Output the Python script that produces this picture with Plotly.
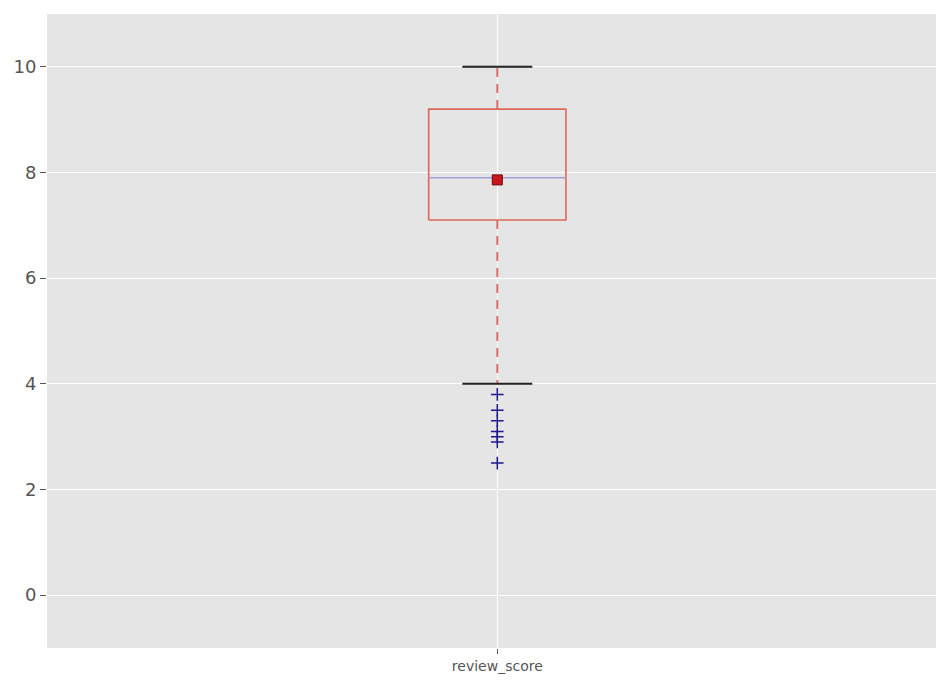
import plotly.graph_objects as go

category = ["review_score"]
q1 = [7.1]
median = [7.9]
q3 = [9.2]
mean = [7.86]
lower_whisker = [4.0]
upper_whisker = [10.0]
outliers = [3.8, 3.5, 3.3, 3.1, 3.0, 2.9, 2.5]
y_ticks = [0, 2, 4, 6, 8, 10]

xc = 1.0
bw = 0.0765   # half box width
cw = 0.039    # half cap width

fig = go.Figure()

# whiskers (dashed)
fig.add_trace(go.Scatter(x=[xc, xc, None, xc, xc],
                         y=[q3[0], upper_whisker[0], None, q1[0], lower_whisker[0]],
                         mode="lines", line=dict(color="#dc7467", width=2, dash="9px,7px"),
                         showlegend=False, hoverinfo="skip"))
# caps
fig.add_trace(go.Scatter(x=[xc - cw, xc + cw, None, xc - cw, xc + cw],
                         y=[upper_whisker[0], upper_whisker[0], None, lower_whisker[0], lower_whisker[0]],
                         mode="lines", line=dict(color="#222222", width=2),
                         showlegend=False, hoverinfo="skip"))
# box
fig.add_trace(go.Scatter(x=[xc - bw, xc + bw, xc + bw, xc - bw, xc - bw],
                         y=[q1[0], q1[0], q3[0], q3[0], q1[0]],
                         mode="lines", line=dict(color="#d9685a", width=1.6),
                         showlegend=False, hoverinfo="skip"))
# median
fig.add_trace(go.Scatter(x=[xc - bw, xc + bw], y=[median[0], median[0]],
                         mode="lines", line=dict(color="#a0a0d8", width=1.6),
                         showlegend=False, hoverinfo="skip"))
# mean
fig.add_trace(go.Scatter(x=[xc], y=mean, mode="markers",
                         marker=dict(symbol="square", size=10, color="#c8161d",
                                     line=dict(color="#6a0a0a", width=1)),
                         showlegend=False))
# outliers
fig.add_trace(go.Scatter(x=[xc] * len(outliers), y=outliers, mode="markers",
                         marker=dict(symbol="cross-thin", size=9,
                                     line=dict(color="#1a1a8c", width=1.5)),
                         showlegend=False))

fig.update_layout(
    width=936, height=674,
    margin=dict(l=39, r=0, t=6, b=34),
    paper_bgcolor="white", plot_bgcolor="#E5E5E5",
    font=dict(family="DejaVu Sans", color="#555555"),
    xaxis=dict(range=[0.498, 1.498], tickvals=[xc], ticktext=category,
               showgrid=True, gridcolor="white", gridwidth=1, zeroline=False,
               ticks="outside", ticklen=5, tickcolor="#555555",
               tickfont=dict(size=14, color="#555555"), showline=False),
    yaxis=dict(range=[-1, 11], tickvals=y_ticks,
               showgrid=True, gridcolor="white", gridwidth=1, zeroline=False,
               ticks="outside", ticklen=6, tickcolor="#555555",
               tickfont=dict(size=18, color="#555555"), showline=False),
)

fig.write_html("out.html")
